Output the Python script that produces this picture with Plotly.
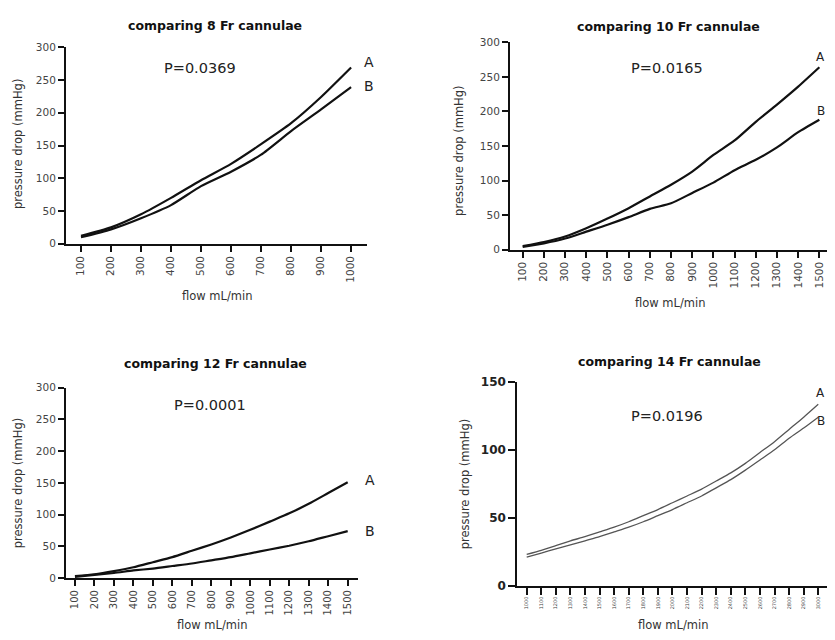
import plotly.graph_objects as go

FONT = "DejaVu Sans"
PAGE_MARGIN = 8           # default browser body margin around the plot div
W, H = 835 - 2 * PAGE_MARGIN, 640 - 2 * PAGE_MARGIN

# ---- data ----
flow_8 = [100, 200, 300, 400, 500, 600, 700, 800, 900, 1000]
a_8 = [12, 25, 45, 70, 97, 122, 152, 184, 224, 269]
b_8 = [10, 22, 39, 59, 88, 110, 136, 172, 205, 239]

flow_10 = [100, 200, 300, 400, 500, 600, 700, 800, 900, 1000, 1100, 1200, 1300, 1400, 1500]
a_10 = [5, 11, 19, 31, 45, 60, 77, 94, 113, 137, 158, 185, 210, 236, 264]
b_10 = [4, 9, 16, 26, 36, 47, 59, 67, 82, 97, 115, 130, 148, 170, 188]

flow_12 = [100, 200, 300, 400, 500, 600, 700, 800, 900, 1000, 1100, 1200, 1300, 1400, 1500]
a_12 = [3, 6, 11, 17, 25, 33, 43, 53, 64, 76, 89, 102, 117, 134, 151]
b_12 = [2, 5, 8, 12, 15, 19, 23, 28, 33, 39, 45, 51, 58, 66, 74]

flow_14 = [1000, 1100, 1200, 1300, 1400, 1500, 1600, 1700, 1800, 1900, 2000,
           2100, 2200, 2300, 2400, 2500, 2600, 2700, 2800, 2900, 3000]
a_14 = [23, 26, 29.5, 33, 36, 39.5, 43, 47, 51.5, 56, 61, 66, 71, 77, 83, 90,
        98, 106, 115, 124, 133.5]
b_14 = [21, 24, 27, 30, 33, 36, 39.5, 43, 47, 51.5, 56, 61, 66, 72, 78, 85,
        92.5, 100, 108.5, 116, 124]

titles = ["comparing 8 Fr cannulae", "comparing 10 Fr cannulae",
          "comparing 12 Fr cannulae", "comparing 14 Fr cannulae"]
pvals = ["P=0.0369", "P=0.0165", "P=0.0001", "P=0.0196"]
y_title = "pressure drop (mmHg)"
x_title = "flow mL/min"


# ---- layout geometry (window pixels -> paper) ----
def px_x(p):
    return min(1.0, max(0.0, (p - PAGE_MARGIN) / W))


def px_y(p):
    return min(1.0, max(0.0, 1 - (p - PAGE_MARGIN) / H))


panels = [
    dict(flow=flow_8, a=a_8, b=b_8, xd=(66, 367), yd=(242, 41), xr=[50, 1053],
         yr=[0, 300], dt=50, color="#111", lw=2.2,
         yfont=dict(family=FONT, size=10.5, color="#444"),
         title=(215, 19), p=(200, 62), yt=(18, 140), xt=(218, 295),
         ashift=(11, 6), bshift=(11, 1), xfs=10.5, ticklen=6, edge=False),
    dict(flow=flow_10, a=a_10, b=b_10, xd=(510, 827), yd=(248, 36), xr=[40, 1536],
         yr=[0, 300], dt=50, color="#111", lw=2.2,
         yfont=dict(family=FONT, size=10.5, color="#444"),
         title=(668, 20), p=(667, 62), yt=(459, 147), xt=(670, 303),
         ashift=(0, 10), bshift=(0, 9), xfs=10.5, ticklen=6, edge=True),
    dict(flow=flow_12, a=a_12, b=b_12, xd=(66, 358), yd=(584, 389.3), xr=[54, 1553],
         yr=[0, 300], dt=50, color="#111", lw=2.2,
         yfont=dict(family=FONT, size=10.5, color="#444"),
         title=(215, 364), p=(210, 407), yt=(18, 487), xt=(212, 632),
         ashift=(15, 2), bshift=(15, 0), xfs=10, ticklen=6, edge=False),
    dict(flow=flow_14, a=a_14, b=b_14, xd=(517.3, 827), yd=(591.7, 383.3), xr=[935.5, 3060],
         yr=[0, 150], dt=50, color="#555", lw=1.3,
         yfont=dict(family=FONT, size=12, color="#222", weight="bold"),
         title=(669, 362), p=(667, 418), yt=(465, 488), xt=(673, 632),
         ashift=(0, 11), bshift=(0, -4), xfs=5, ticklen=7, edge=True),
]

fig = go.Figure()
annotations = []

for i, pn in enumerate(panels):
    k = "" if i == 0 else str(i + 1)
    xa, ya = "x" + k, "y" + k
    for name, vals in (("A", pn["a"]), ("B", pn["b"])):
        fig.add_trace(go.Scatter(
            x=pn["flow"], y=vals, mode="lines", name=name, showlegend=False,
            line=dict(color=pn["color"], width=pn["lw"], shape="spline", smoothing=0.6),
            xaxis=xa, yaxis=ya, cliponaxis=False))
    fig.update_layout(**{
        "xaxis" + k: dict(
            domain=[px_x(pn["xd"][0]), px_x(pn["xd"][1])], range=pn["xr"], anchor=ya,
            tickmode="array", tickvals=pn["flow"], ticktext=[str(v) for v in pn["flow"]],
            tickangle=-90, ticks="outside", ticklen=pn["ticklen"], tickwidth=2, tickcolor="#111",
            showline=True, linecolor="#111", linewidth=2, showgrid=False, zeroline=False,
            tickfont=dict(family=FONT, size=pn["xfs"], color="#444"), fixedrange=True),
        "yaxis" + k: dict(
            domain=[px_y(pn["yd"][0]), px_y(pn["yd"][1])], range=pn["yr"], anchor=xa,
            tickmode="linear", tick0=0, dtick=pn["dt"],
            ticks="outside", ticklen=pn["ticklen"], tickwidth=2, tickcolor="#111",
            showline=True, linecolor="#111", linewidth=2, showgrid=False, zeroline=False,
            tickfont=pn["yfont"], fixedrange=True),
    })
    annotations.append(dict(text=titles[i], x=px_x(pn["title"][0]), y=px_y(pn["title"][1]),
                            xref="paper", yref="paper", showarrow=False, xanchor="center",
                            yanchor="middle",
                            font=dict(family=FONT, size=12.5, color="#111", weight="bold")))
    annotations.append(dict(text=pvals[i], x=px_x(pn["p"][0]), y=px_y(pn["p"][1]),
                            xref="paper", yref="paper", showarrow=False, xanchor="center",
                            yanchor="middle", font=dict(family=FONT, size=14.5, color="#222")))
    annotations.append(dict(text=y_title, x=px_x(pn["yt"][0]), y=px_y(pn["yt"][1]),
                            xref="paper", yref="paper", showarrow=False, textangle=-90,
                            xanchor="center", yanchor="middle",
                            font=dict(family=FONT, size=11.5, color="#333")))
    annotations.append(dict(text=x_title, x=px_x(pn["xt"][0]), y=px_y(pn["xt"][1]),
                            xref="paper", yref="paper", showarrow=False,
                            xanchor="center", yanchor="middle",
                            font=dict(family=FONT, size=11.5, color="#333")))
    for name, vals, sh in (("A", pn["a"], pn["ashift"]), ("B", pn["b"], pn["bshift"])):
        if pn["edge"]:
            # label pushed against the right edge of the figure
            annotations.append(dict(text=name, x=1.0, y=vals[-1], xref="paper", yref=ya,
                                    showarrow=False, xanchor="right", yanchor="middle",
                                    yshift=sh[1], font=dict(family=FONT, size=12, color="#222")))
        else:
            annotations.append(dict(text=name, x=pn["flow"][-1], y=vals[-1], xref=xa, yref=ya,
                                    showarrow=False, xanchor="left", yanchor="middle",
                                    xshift=sh[0], yshift=sh[1],
                                    font=dict(family=FONT, size=14, color="#222")))

fig.update_layout(
    width=W, height=H, margin=dict(l=0, r=0, t=0, b=0),
    paper_bgcolor="white", plot_bgcolor="white",
    annotations=annotations, showlegend=False,
    font=dict(family=FONT),
)

fig.write_html("out.html")
